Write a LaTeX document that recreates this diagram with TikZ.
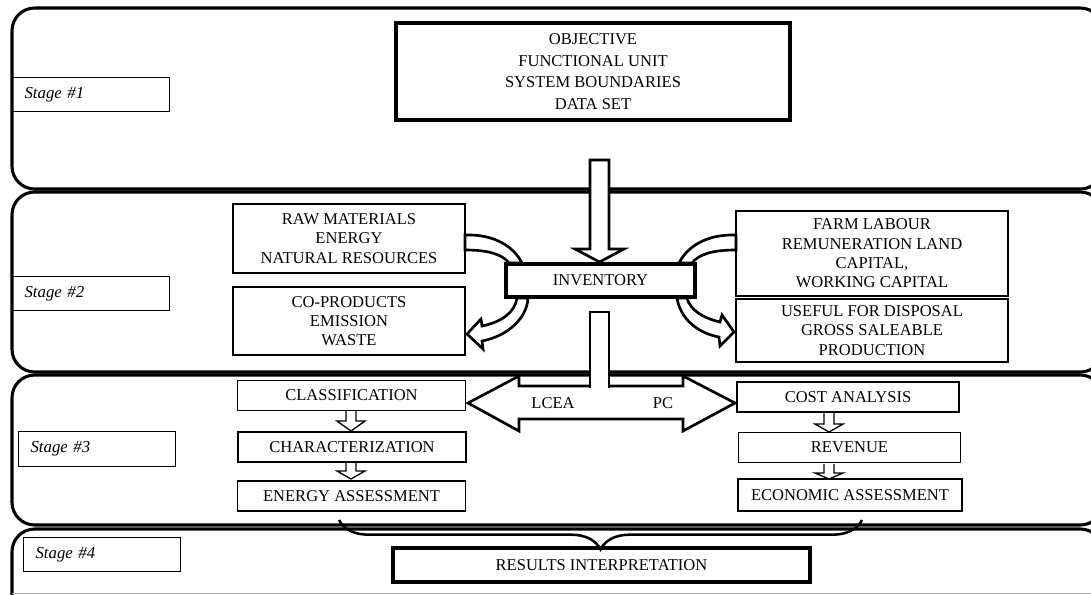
\documentclass[tikz,border=0pt]{standalone}
\usepackage{fontspec}
\setmainfont{Liberation Serif}
\usetikzlibrary{decorations.pathreplacing}

\begin{document}
\begin{tikzpicture}[x=0.75pt, y=-0.75pt, font=\fontsize{12.4}{14.5}\selectfont,
  band/.style={line width=2.3pt, rounded corners=17pt},
  stagebox/.style={draw, line width=0.8pt, anchor=west, inner xsep=9pt, text width=99.5pt,
    minimum height=26pt, align=left, font=\fontsize{12.6}{14.5}\selectfont\itshape},
  box/.style={draw, line width=0.9pt, align=center, inner sep=1pt},
  bigbox/.style={draw, line width=2.8pt, align=center, inner sep=1pt},
  hollow/.style={draw, fill=white, line width=2pt, line join=miter},
  smallarr/.style={draw, fill=white, line width=1pt}]
  \useasboundingbox (0,0) rectangle (1091,594);
  \clip (0,0) rectangle (1091,594);
  % Stufen (Baender)
  \draw[band] (12,8) rectangle (1103,189);
  \draw[band] (12,192) rectangle (1103,372);
  \draw[band] (12,375) rectangle (1103,525);
  \draw[band] (12,600) -- (12,529) -- (1103,529) -- (1103,600);
  \draw[gray!60, line width=0.8pt] (12,593.5) -- (1091,593.5);
  % Pfeil Stufe 1 -> Inventar
  \draw[hollow] (590,160) -- (590,249) -- (575,249) -- (599.5,262) -- (624,249)
    -- (609,249) -- (609,160) -- cycle;
  % gebogene Pfeile oben
  \draw[hollow] (465,235) .. controls (495,234) and (514,247) .. (522,263)
    -- (509,263) .. controls (502,254) and (488,250) .. (465,250) -- cycle;
  \draw[hollow] (736,235) .. controls (706,234) and (687,247) .. (679,263)
    -- (692,263) .. controls (699,254) and (713,250) .. (736,250) -- cycle;
  % gebogene Pfeile unten
  \draw[hollow] (517,298) .. controls (515,312) and (502,322) .. (482,326)
    -- (481,319) -- (467,334) -- (483,349) -- (482,341)
    .. controls (508,336) and (527,318) .. (528,298) -- cycle;
  \draw[hollow] (687,298) .. controls (690,310) and (703,318) .. (720,322)
    -- (722,315) -- (734,332) -- (720,346) -- (719,337)
    .. controls (697,333) and (680,318) .. (677,298) -- cycle;
  % Doppelpfeil LCEA / PC
  \draw[hollow] (468,403) -- (519,376) -- (519,386) -- (683,386) -- (683,376)
    -- (735,403) -- (683,431) -- (683,419) -- (519,419) -- (519,431) -- cycle;
  \filldraw[hollow] (590,388) -- (590,312) -- (609,312) -- (609,388);
  \node (lcea) at (553,403) {LCEA};
  \node (pc) at (663,403) {PC};
  % kleine Pfeile in Stufe 3
  \foreach \x/\ya/\yb/\yc in {351/411/421/431, 351/463/471/479,
                               829/413/424/432, 829/464/473/479}
    \draw[smallarr] (\x-5,\ya) -- (\x-5,\yb) -- (\x-14,\yb) -- (\x,\yc)
      -- (\x+14,\yb) -- (\x+5,\yb) -- (\x+5,\ya);
  % Klammer zur Interpretation
  \draw[line width=1.9pt, decorate, decoration={brace, amplitude=22pt}]
    (862,520) -- (339,520);
  % Stufen-Beschriftung
  \node[stagebox] (s1) at (12,94.5) {Stage \#1};
  \node[stagebox] (s2) at (12,293.5) {Stage \#2};
  \node[stagebox] (s3) at (18,449) {Stage \#3};
  \node[stagebox] (s4) at (23,554.5) {Stage \#4};
  % Kaesten
  \node[bigbox, minimum width=295.5pt, minimum height=72.75pt,
    font=\fontsize{12.4}{16.2}\selectfont] (obj) at (593,71.5)
    {OBJECTIVE\\FUNCTIONAL UNIT\\SYSTEM BOUNDARIES\\DATA SET};
  \node[bigbox, line width=2.6pt, minimum width=141.75pt, minimum height=24.75pt]
    (inv) at (600.5,280.5) {INVENTORY};
  \node[box, minimum width=174pt, minimum height=51.75pt] (raw) at (349,238.5)
    {RAW MATERIALS\\ENERGY\\NATURAL RESOURCES};
  \node[box, minimum width=174pt, minimum height=51pt] (cop) at (349,321)
    {CO-PRODUCTS\\EMISSION\\WASTE};
  \node[box, minimum width=204pt, minimum height=63.75pt] (farm) at (872,253.5)
    {FARM LABOUR\\REMUNERATION LAND\\CAPITAL,\\WORKING CAPITAL};
  \node[box, minimum width=204pt, minimum height=47.25pt] (use) at (872,330.5)
    {USEFUL FOR DISPOSAL\\GROSS SALEABLE\\PRODUCTION};
  \node[box, minimum width=171pt, minimum height=22.5pt] (cls) at (351.5,395.5) {CLASSIFICATION};
  \node[box, minimum width=171pt, minimum height=22.5pt] (chr) at (352,447) {CHARACTERIZATION};
  \node[box, minimum width=171pt, minimum height=22.5pt] (ena) at (351.5,496) {ENERGY ASSESSMENT};
  \node[box, minimum width=166.5pt, minimum height=22.5pt] (cost) at (848,397) {COST ANALYSIS};
  \node[box, minimum width=166.5pt, minimum height=22.5pt] (rev) at (849.5,447.5) {REVENUE};
  \node[box, minimum width=168pt, minimum height=24pt] (eca) at (850,495) {ECONOMIC ASSESSMENT};
  \node[bigbox, minimum width=312.75pt, minimum height=25.5pt] (res) at (601.5,565)
    {RESULTS INTERPRETATION};
\end{tikzpicture}
\end{document}
